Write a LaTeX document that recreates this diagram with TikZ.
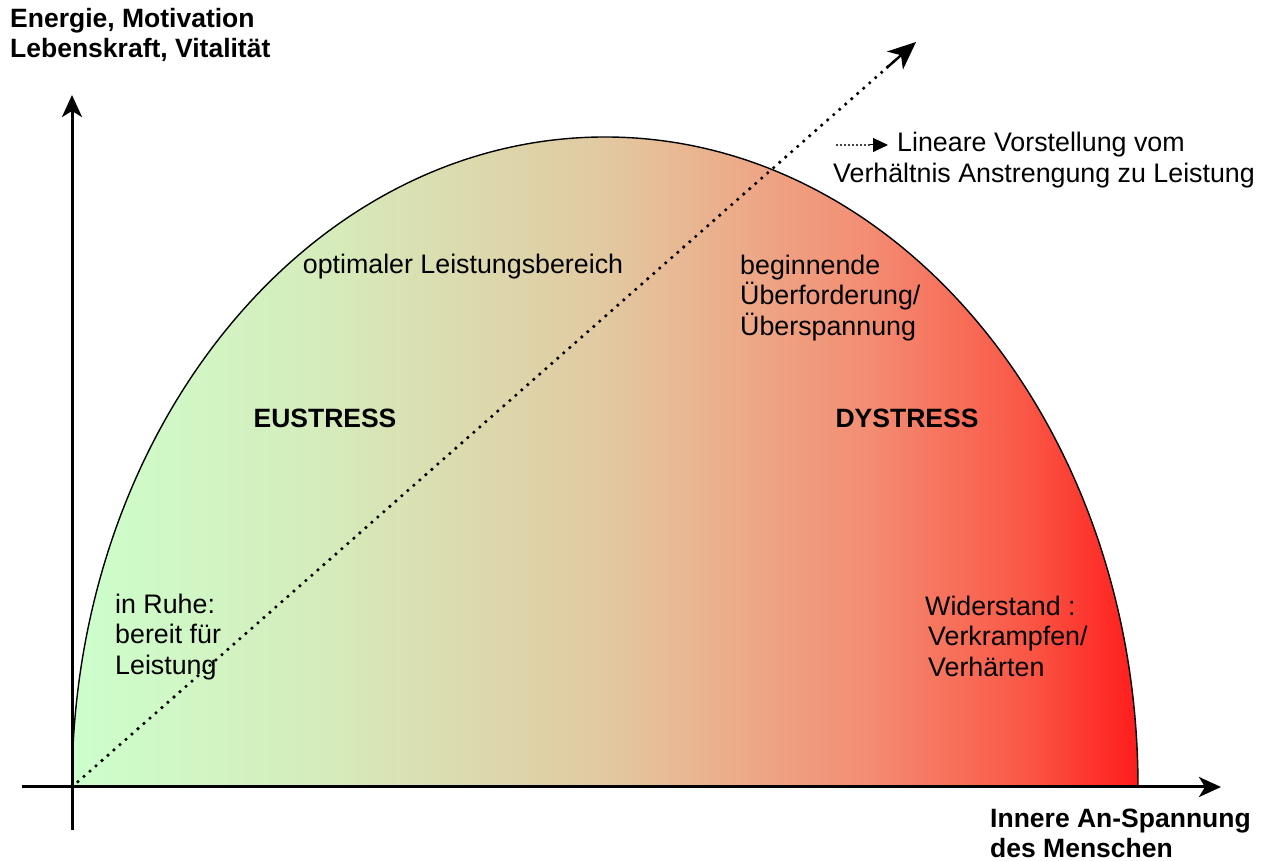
\documentclass[tikz,border=0pt]{standalone}
\usepackage{fontspec}
\setmainfont{Liberation Sans}
\usetikzlibrary{arrows.meta,calc}
\definecolor{gA}{RGB}{204,255,204}
\definecolor{gB}{RGB}{214,234,186}
\definecolor{gC}{RGB}{226,201,161}
\definecolor{gD}{RGB}{236,172,138}
\definecolor{gE}{RGB}{243,140,114}
\definecolor{gF}{RGB}{250,85,68}
\definecolor{gG}{RGB}{255,28,28}
\pgfdeclarehorizontalshading{stressgrad}{100bp}{color(0bp)=(gA); color(25bp)=(gA); color(37.5bp)=(gB); color(50bp)=(gC); color(56bp)=(gD); color(62.5bp)=(gE); color(70bp)=(gF); color(75bp)=(gG); color(100bp)=(gG)}
\tikzset{
  axis/.style={line width=3pt,-{Stealth[length=22pt,width=20pt,inset=6pt]}},
  dotline/.style={line width=3.6pt,dash pattern=on 0pt off 8pt,line cap=round},
  lbl/.style={inner sep=0pt,align=left,font=\fontsize{26.8}{30.5}\selectfont},
  blbl/.style={inner sep=0pt,align=left,font=\fontsize{26.5}{30}\selectfont\bfseries},
}
\begin{document}
\begin{tikzpicture}[x=1pt,y=1pt]
\useasboundingbox (0,0) rectangle (1269,861);
% shaded half ellipse
\shade[shading=stressgrad,draw=black,line width=1.4pt] (1138,74) arc[start angle=0,end angle=180,x radius=533,y radius=650] -- cycle;
% axes
\coordinate (ybot) at (72,31);
\coordinate (ytop) at (72,766);
\coordinate (xleft) at (22,74);
\coordinate (xright) at (1221,74);
\coordinate (O) at (72,74);
\draw[axis] (ybot) -- (ytop);
\draw[axis] (xleft) -- (xright);
% linear dotted arrow
\coordinate (lintip) at (916,819);
\draw[dotline] (O) -- ($(O)!0.975!(lintip)$);
\draw[line width=2.4pt,-{Stealth[length=28pt,width=24pt,inset=8pt]}] ($(O)!0.965!(lintip)$) -- (lintip);
% legend
\coordinate (lgA) at (837,716);
\coordinate (lgB) at (888,716);
\draw[line width=2.2pt,dash pattern=on 0pt off 4pt,line cap=round] (lgA) -- ($(lgA)!0.7!(lgB)$);
\draw[line width=1pt,-{Triangle[length=15pt,width=14pt]}] ($(lgA)!0.65!(lgB)$) -- (lgB);
\node[lbl,anchor=west] (legend) at (833,701) {\hspace*{64pt}Lineare Vorstellung vom\\Verhältnis Anstrengung zu Leistung};
% texts
\node[blbl,anchor=west] (ylabel) at (10,826) {Energie, Motivation\\Lebenskraft, Vitalität};
\node[blbl,anchor=west] (xlabel) at (990,28) {Innere An-Spannung\\des Menschen};
\node[lbl] (opt) at (463,594) {optimaler Leistungsbereich};
\node[lbl,anchor=west] (beg) at (740,563) {beginnende\\Überforderung/\\Überspannung};
\node[blbl] (eu) at (325,443) {EUSTRESS};
\node[blbl] (dy) at (907,443) {DYSTRESS};
\node[lbl,anchor=west] (ruhe) at (115,224) {in Ruhe:\\bereit für\\Leistung};
\node[lbl,anchor=west] (wid) at (925,225) {Widerstand :\\\hspace*{3pt}Verkrampfen/\\\hspace*{3pt}Verhärten};
\end{tikzpicture}
\end{document}
